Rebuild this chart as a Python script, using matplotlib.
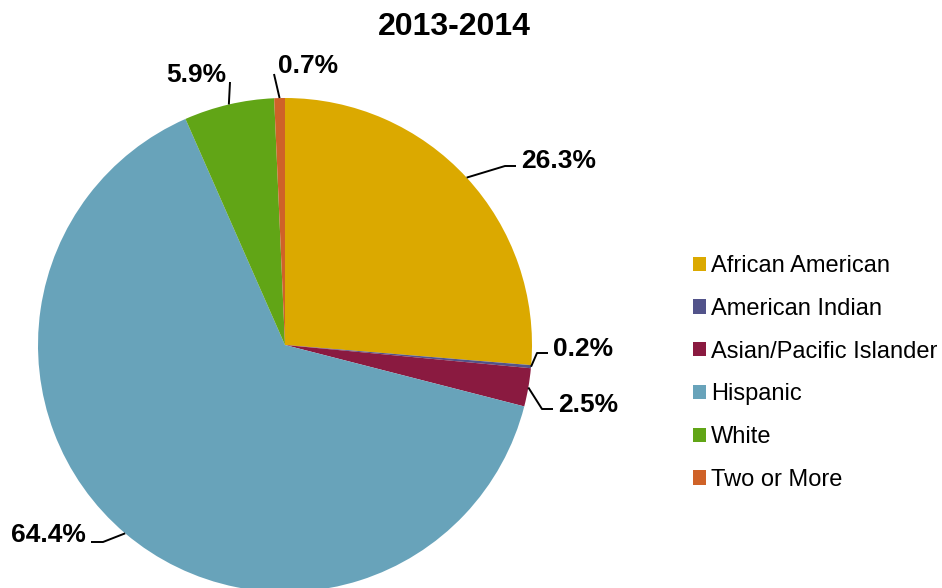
import matplotlib
matplotlib.use('Agg')
import matplotlib.pyplot as plt
import numpy as np

plt.rcParams['font.family'] = ['Liberation Sans', 'DejaVu Sans']

# ---- data ----
categories = ["African American", "American Indian", "Asian/Pacific Islander",
              "Hispanic", "White", "Two or More"]
values = [26.3, 0.2, 2.5, 64.4, 5.9, 0.7]
labels = ["26.3%", "0.2%", "2.5%", "64.4%", "5.9%", "0.7%"]
colors = ["#DBA900", "#52538A", "#8A1A40", "#68A3BA", "#61A516", "#CF6228"]
title = "2013-2014"

# ---- layout (pixels) ----
W, H = 942, 588
CX, CY, R = 285, 345, 247

def px(x, y):
    return ((x - CX) / R, (CY - y) / R)

fig = plt.figure(figsize=(W / 100, H / 100), dpi=100)
ax = fig.add_axes([(CX - R) / W, (H - CY - R) / H, 2 * R / W, 2 * R / H])
wedges, _ = ax.pie(values, colors=colors, startangle=90, counterclock=False,
                   radius=1, wedgeprops=dict(linewidth=0))
ax.set_xlim(-1, 1)
ax.set_ylim(-1, 1)
ax.axis('off')

# label text positions (pixels) and leader elbows
text_pos = [(521, 167.5, 'left'), (553, 356, 'left'), (558, 412, 'left'),
            (86, 542, 'right'), (226, 82, 'right'), (278, 73, 'left')]
elbows = [[(505, 166), (516, 166)], [(537, 353), (548, 353)],
          [(542, 409), (553, 409)], [(103, 542), (91, 542)],
          [(230, 82)], [(274, 74)]]

for w, lab, (tx, ty, ha), el in zip(wedges, labels, text_pos, elbows):
    mid = np.deg2rad((w.theta1 + w.theta2) / 2)
    pts = [(np.cos(mid), np.sin(mid))] + [px(*p) for p in el]
    xs, ys = zip(*pts)
    ax.plot(xs, ys, color='black', lw=1.4, clip_on=False, solid_capstyle='butt')
    x, y = px(tx, ty)
    ax.text(x, y, lab, ha=ha, va='baseline', fontsize=19, fontweight='bold',
            clip_on=False)

fig.text(454 / W, 1 - 35 / H, title, ha='center', va='baseline',
         fontsize=23, fontweight='bold')

fig.legend(wedges, categories, loc='center left',
           bbox_to_anchor=(693 / W, 1 - 373 / H), frameon=False,
           fontsize=17, handlelength=0.55, handleheight=0.55,
           handletextpad=0.22, labelspacing=0.88, borderpad=0,
           borderaxespad=0)

fig.savefig('out.png', dpi=100)
